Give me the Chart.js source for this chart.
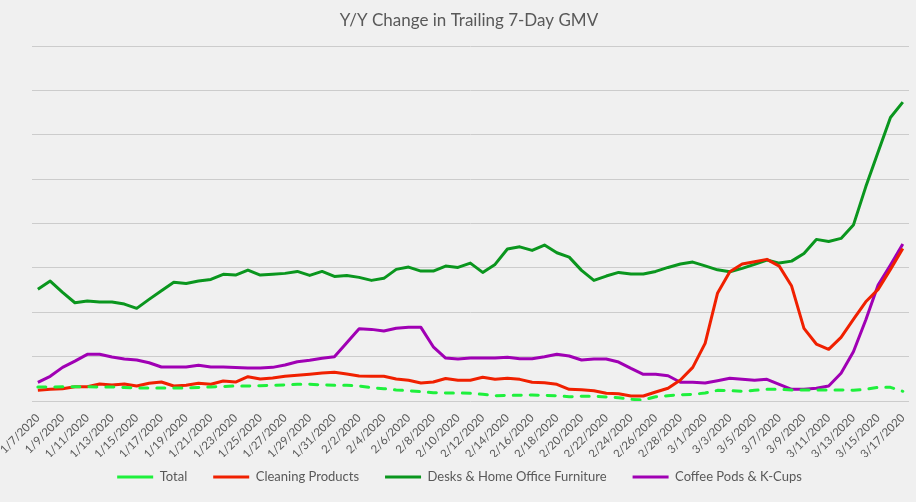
<!DOCTYPE html>
<html>
<head>
<meta charset="utf-8">
<script src="https://cdn.jsdelivr.net/npm/chart.js@4/dist/chart.umd.min.js"></script>
<style>
  html, body { margin: 0; padding: 0; background: #f0f0f0; }
  #wrap { width: 916px; height: 502px; }
</style>
</head>
<body>
<div id="wrap"><canvas id="gmvChart" width="916" height="502"></canvas></div>
<script>
// Dates (daily, 1/7/2020 - 3/17/2020)
const dates = [
  '1/7/2020','1/8/2020','1/9/2020','1/10/2020','1/11/2020','1/12/2020','1/13/2020','1/14/2020','1/15/2020','1/16/2020',
  '1/17/2020','1/18/2020','1/19/2020','1/20/2020','1/21/2020','1/22/2020','1/23/2020','1/24/2020','1/25/2020','1/26/2020',
  '1/27/2020','1/28/2020','1/29/2020','1/30/2020','1/31/2020','2/1/2020','2/2/2020','2/3/2020','2/4/2020','2/5/2020',
  '2/6/2020','2/7/2020','2/8/2020','2/9/2020','2/10/2020','2/11/2020','2/12/2020','2/13/2020','2/14/2020','2/15/2020',
  '2/16/2020','2/17/2020','2/18/2020','2/19/2020','2/20/2020','2/21/2020','2/22/2020','2/23/2020','2/24/2020','2/25/2020',
  '2/26/2020','2/27/2020','2/28/2020','2/29/2020','3/1/2020','3/2/2020','3/3/2020','3/4/2020','3/5/2020','3/6/2020',
  '3/7/2020','3/8/2020','3/9/2020','3/10/2020','3/11/2020','3/12/2020','3/13/2020','3/14/2020','3/15/2020','3/16/2020',
  '3/17/2020'
];

// Y/Y change (%)
const total = [
  15.8, 15.8, 16.1, 16.1, 16.1, 15.8, 15.8, 15.2, 14.6, 14.6,
  14.6, 14.6, 14.6, 15.2, 15.8, 16.3, 16.9, 16.9, 17.2, 17.7,
  18.0, 18.8, 18.8, 18.2, 17.7, 17.7, 16.9, 15.0, 13.9, 12.4,
  11.6, 10.5, 9.3, 9.0, 9.0, 8.7, 7.5, 6.0, 6.4, 6.4,
  6.8, 6.4, 6.0, 4.8, 5.3, 5.3, 4.5, 3.7, 1.9, 1.1,
  4.8, 6.0, 7.1, 7.5, 9.0, 12.0, 11.6, 10.9, 12.0, 13.2,
  13.2, 12.4, 12.4, 12.4, 12.4, 12.4, 12.0, 13.2, 15.4, 15.4,
  10.9
];
const cleaning = [
  12.0, 13.2, 13.9, 16.1, 16.1, 19.1, 18.0, 19.1, 16.9, 19.9,
  21.4, 16.9, 17.7, 19.9, 18.8, 22.5, 21.4, 27.4, 24.8, 25.9,
  27.8, 28.9, 30.1, 31.5, 32.3, 30.4, 28.2, 27.8, 27.8, 24.8,
  23.3, 20.3, 21.4, 25.3, 23.3, 23.3, 26.7, 24.4, 25.6, 24.4,
  21.1, 20.6, 18.8, 13.2, 12.7, 11.6, 8.7, 8.2, 5.6, 5.6,
  10.1, 14.3, 23.6, 37.9, 65.0, 121.3, 145.6, 154.3, 156.8, 159.6,
  152.0, 129.5, 81.9, 64.2, 58.2, 71.7, 92.0, 111.8, 125.8, 148.3,
  171.9
];
const desks = [
  125.8, 135.1, 122.4, 110.7, 112.6, 111.5, 111.5, 109.2, 104.4, 114.5,
  124.2, 133.7, 132.5, 135.1, 137.0, 142.7, 141.9, 147.5, 141.9, 142.7,
  143.8, 146.0, 141.5, 146.0, 140.4, 141.5, 139.3, 135.9, 138.2, 148.3,
  150.9, 146.4, 146.4, 152.0, 150.5, 155.4, 144.9, 153.9, 171.2, 173.7,
  169.7, 175.7, 167.0, 162.1, 147.2, 135.9, 140.8, 144.9, 143.0, 143.0,
  146.0, 150.5, 154.3, 156.5, 152.3, 147.8, 145.6, 149.4, 153.9, 158.8,
  155.4, 157.6, 166.3, 182.1, 179.8, 183.2, 198.2, 241.3, 280.7, 319.4,
  336.7
];
const coffee = [
  21.1, 27.8, 37.9, 45.0, 52.6, 52.6, 49.5, 47.3, 46.2, 43.1,
  38.3, 38.3, 38.3, 40.2, 38.3, 38.3, 37.7, 37.2, 37.2, 37.9,
  40.5, 44.3, 45.8, 48.1, 49.9, 65.6, 81.4, 80.7, 78.8, 81.9,
  83.0, 83.0, 61.1, 48.4, 47.3, 48.4, 48.4, 48.4, 49.2, 47.6,
  47.6, 49.9, 52.6, 50.7, 46.2, 47.3, 47.3, 43.9, 36.8, 30.1,
  30.2, 28.5, 21.1, 21.1, 20.3, 22.9, 25.6, 24.4, 23.3, 24.4,
  18.8, 13.2, 13.2, 14.3, 16.9, 31.2, 55.5, 91.2, 130.6, 153.2,
  176.8
];

const textColor = '#595959';
const fontFamily = 'Lato, "Open Sans", sans-serif';

// legend sits lower than the x labels' box would allow, so trim its height and nudge it
const legendNudge = {
  id: 'legendNudge',
  beforeLayout(chart) {
    const lg = chart.legend;
    if (lg && !lg._trimmed) {
      const fit = lg.fit;
      lg.fit = function () { fit.call(this); this.height = 37; };
      lg._trimmed = true;
    }
  },
  afterLayout(chart) {
    const lg = chart.legend;
    lg.top -= 12.5;   // bottom stays, so the clip box still holds the text
    lg.left -= 9.5; lg.right -= 9.5;
  }
};

new Chart(document.getElementById('gmvChart'), {
  type: 'line',
  data: {
    labels: dates,
    datasets: [
      {
        label: 'Total',
        data: total,
        borderColor: '#1ef03c',
        backgroundColor: '#1ef03c',
        borderWidth: 3,
        borderDash: [8, 9],
        borderCapStyle: 'round'
      },
      {
        label: 'Cleaning Products',
        data: cleaning,
        borderColor: '#f02000',
        backgroundColor: '#f02000',
        borderWidth: 3
      },
      {
        label: 'Desks & Home Office Furniture',
        data: desks,
        borderColor: '#0a961e',
        backgroundColor: '#0a961e',
        borderWidth: 3
      },
      {
        label: 'Coffee Pods & K-Cups',
        data: coffee,
        borderColor: '#a000b4',
        backgroundColor: '#a000b4',
        borderWidth: 3
      }
    ]
  },
  options: {
    responsive: false,
    animation: false,
    devicePixelRatio: 1,
    elements: {
      point: { radius: 0 },
      line: { tension: 0, borderJoinStyle: 'round' }
    },
    layout: {
      padding: { left: 29, right: 7, top: 0, bottom: 8 }
    },
    plugins: {
      title: {
        display: true,
        text: 'Y/Y Change in Trailing 7-Day GMV',
        color: textColor,
        font: { family: fontFamily, size: 17, weight: 'normal' },
        padding: { top: 10, bottom: 15.6 }
      },
      legend: {
        position: 'bottom',
        labels: {
          color: textColor,
          font: { family: fontFamily, size: 13 },
          usePointStyle: true,
          pointStyle: 'line',
          pointStyleWidth: 36,
          padding: 26
        }
      },
      tooltip: { enabled: false }
    },
    scales: {
      x: {
        offset: true,
        grid: { display: false },
        border: { display: false },
        ticks: {
          autoSkip: false,
          minRotation: 45,
          maxRotation: 45,
          color: textColor,
          font: { family: fontFamily, size: 11.5 },
          padding: 2,
          callback: function (val, idx) {
            return idx % 2 === 0 ? dates[idx] : '';
          }
        },
        afterFit: function (scale) { scale.height = 56; }
      },
      y: {
        min: 0,
        max: 400,
        grid: { color: '#cccccc', drawTicks: false },
        border: { display: false },
        ticks: { display: false, stepSize: 50 },
        afterFit: function (scale) { scale.width = 0; }
      }
    }
  },
  plugins: [legendNudge]
});
</script>
</body>
</html>
